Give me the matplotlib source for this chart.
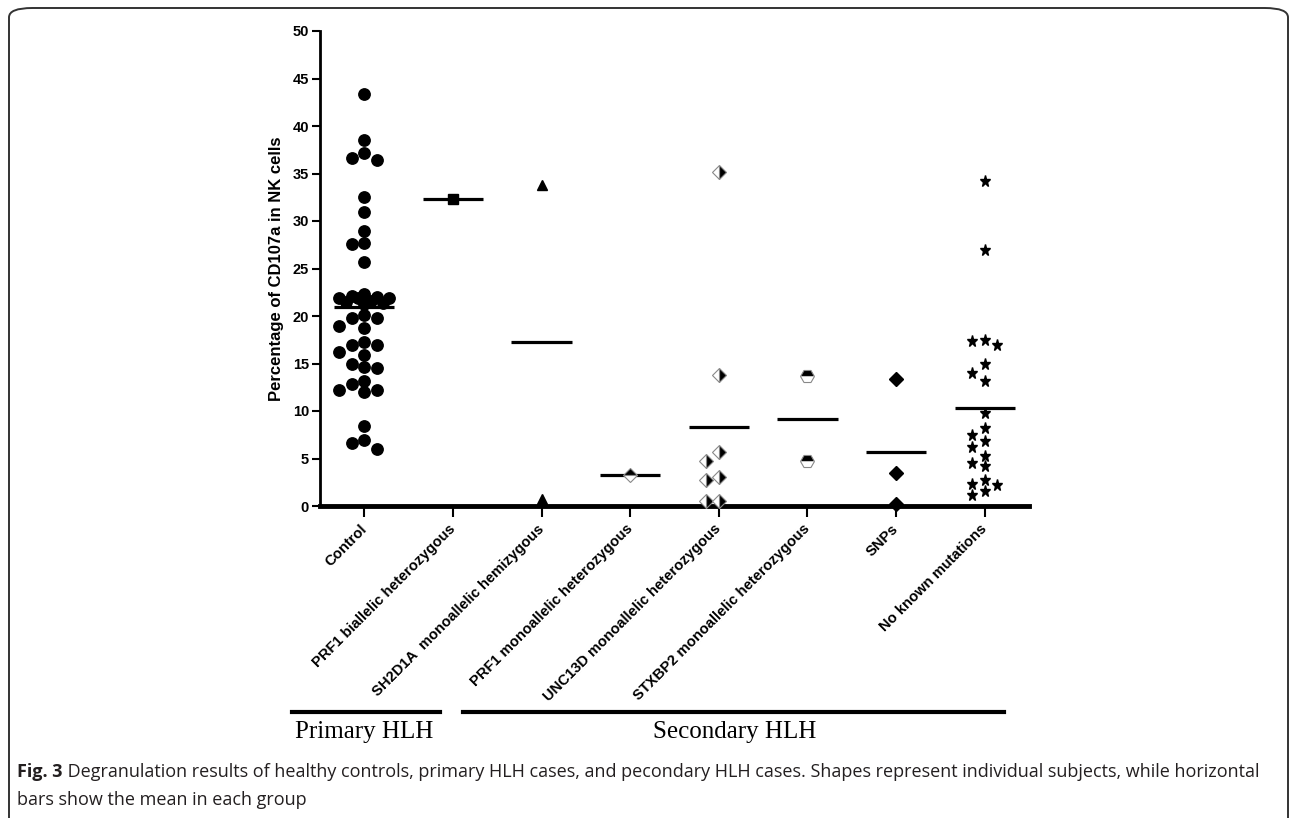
import numpy as np
import matplotlib
matplotlib.use("Agg")
import matplotlib.pyplot as plt
from matplotlib.lines import Line2D
from matplotlib.patches import FancyBboxPatch

# ---- data ----
groups = ["Control", "PRF1 biallelic heterozygous", "SH2D1A  monoallelic hemizygous",
          "PRF1 monoallelic heterozygous", "UNC13D monoallelic heterozygous",
          "STXBP2 monoallelic heterozygous", "SNPs", "No known mutations"]

control = [43.4, 38.5, 36.6, 36.4, 37.2, 32.5, 31.0, 28.9, 27.6, 27.7, 25.7,
           22.1, 21.5, 21.9, 21.4, 22.3, 21.6, 22.0, 21.9, 21.3, 21.9,
           20.1, 19.8, 19.8, 18.7, 19.0, 17.3, 16.9, 16.9, 16.2, 15.9,
           15.0, 14.6, 14.5, 13.2, 12.8, 12.2, 12.0, 12.2, 8.4, 7.0, 6.6, 6.0]
prf1_biallelic = [32.3]
sh2d1a = [33.8, 0.7]
prf1_mono = [3.3]
unc13d = [35.2, 13.75, 5.7, 4.7, 3.1, 2.7, 0.5, 0.5]
stxbp2 = [13.7, 4.7]
snps = [13.4, 3.5, 0.2]
no_known = [34.2, 26.9, 17.5, 17.0, 17.4, 15.0, 14.0, 13.2, 9.8, 8.2, 7.5,
            6.8, 6.2, 5.3, 4.2, 4.5, 2.7, 2.2, 2.3, 1.6, 1.2]

series = [control, prf1_biallelic, sh2d1a, prf1_mono, unc13d, stxbp2, snps, no_known]

caption_bold = "Fig. 3"
caption_text = (" Degranulation results of healthy controls, primary HLH cases, and pecondary HLH cases. "
                "Shapes represent individual subjects, while horizontal")
caption_line2 = "bars show the mean in each group"

# marker styles per group
styles = [
    dict(marker="o", ms=8.2, mfc="black", mec="black"),
    dict(marker="s", ms=6.5, mfc="black", mec="black"),
    dict(marker="^", ms=7, mfc="black", mec="black"),
    dict(marker="D", ms=7, mfc="black", mec="#888888", fillstyle="top", mfcalt="white", mew=0.8),
    dict(marker="D", ms=7.5, mfc="black", mec="#888888", fillstyle="right", mfcalt="white", mew=0.8),
    dict(marker="H", ms=10, mfc="black", mec="#888888", fillstyle="top", mfcalt="white", mew=0.8),
    dict(marker="D", ms=7.5, mfc="black", mec="black"),
    dict(marker="*", ms=8.2, mfc="black", mec="black"),
]


def swarm(vals, d, step, nmax=2, ypx=9.5, xpx=89.0):
    # beeswarm on a fixed grid of slots; overlap allowed when the row is full
    vals = np.asarray(vals, float)
    offs = np.zeros(len(vals))
    placed = []
    full = sorted([k * step for k in range(-nmax, nmax + 1)], key=abs)
    half = sorted([(k + 0.5) * step for k in range(-nmax, nmax)], key=abs)
    for i in np.argsort(-vals):
        y = vals[i] * ypx

        def mind(c):
            if not placed:
                return np.inf
            return min(np.hypot(c - px, y - py) for px, py in placed)

        found = None
        for c in full + half:
            if mind(c) >= d:
                found = c
                break
        if found is None:
            found = max(full + half, key=mind)
        placed.append((found, y))
        offs[i] = found
    return offs / xpx


plt.rcParams["font.family"] = ["Liberation Sans", "DejaVu Sans"]
fig = plt.figure(figsize=(12.9, 8.18), dpi=100)
ax = fig.add_axes([320 / 1290, 1 - 506 / 818, 709 / 1290, 475 / 818])

for i, (vals, st) in enumerate(zip(series, styles)):
    st = dict(st)
    alt = st.pop("mfcalt", None)
    offs = swarm(vals, 11 if i == 0 else 10, 12.5)
    mean = np.mean(vals)
    ax.plot([i - 0.34, i + 0.34], [mean, mean], color="black", lw=2.3, solid_capstyle="butt", zorder=2)
    kw = dict(linestyle="none", zorder=3, clip_on=False)
    if alt is not None:
        kw["markerfacecoloralt"] = alt
    ax.plot(i + offs, vals, **st, **kw)

ax.set_xlim(-0.5, 7.5)
ax.set_ylim(0, 50)
ax.set_yticks(np.arange(0, 51, 5))
ax.set_xticks(range(len(groups)))
ax.set_xticklabels(groups, rotation=45, ha="right", va="center", rotation_mode="anchor",
                   fontsize=10.6, fontweight="bold")
ax.tick_params(axis="x", length=8, width=1.5, pad=7)
ax.tick_params(axis="y", length=6, width=1.5, labelsize=10.5, pad=2)
for lab in ax.get_yticklabels():
    lab.set_fontweight("bold")
ax.set_ylabel("Percentage of CD107a in NK cells", fontsize=12, fontweight="bold", labelpad=6)
for s in ["top", "right"]:
    ax.spines[s].set_visible(False)
ax.spines["left"].set_linewidth(2)
ax.spines["bottom"].set_linewidth(3.5)


# group bars under the axis
def fig_line(x0, x1, y):
    fig.add_artist(Line2D([x0 / 1290, x1 / 1290], [1 - y / 818] * 2, color="black", lw=3,
                          transform=fig.transFigure))


fig_line(292, 440, 712)
fig_line(463, 1004, 712)
fig.text(364 / 1290, 1 - 738 / 818, "Primary HLH", family="Liberation Serif", fontsize=18,
         ha="center", va="baseline")
fig.text(735 / 1290, 1 - 738 / 818, "Secondary HLH", family="Liberation Serif", fontsize=18,
         ha="center", va="baseline")

# caption
cap_font = dict(family=["Open Sans", "DejaVu Sans"], fontsize=12.95, color="#231f20")
t1 = fig.text(17 / 1290, 1 - 777 / 818, caption_bold, fontweight="bold", va="baseline", **cap_font)
fig.canvas.draw()
bb = t1.get_window_extent()
fig.text(bb.x1 / 1290, 1 - 777 / 818, caption_text, va="baseline", **cap_font)
fig.text(17 / 1290, 1 - 805 / 818, caption_line2, va="baseline", **cap_font)

# rounded frame
frame = FancyBboxPatch((9 / 1290, -0.1), 1279 / 1290, 0.1 + 1 - 8 / 818,
                       boxstyle="round,pad=0,rounding_size=0.018", transform=fig.transFigure,
                       fill=False, ec="#333333", lw=1.4, mutation_aspect=818 / 1290)
fig.add_artist(frame)

fig.savefig("out.png", dpi=100)
